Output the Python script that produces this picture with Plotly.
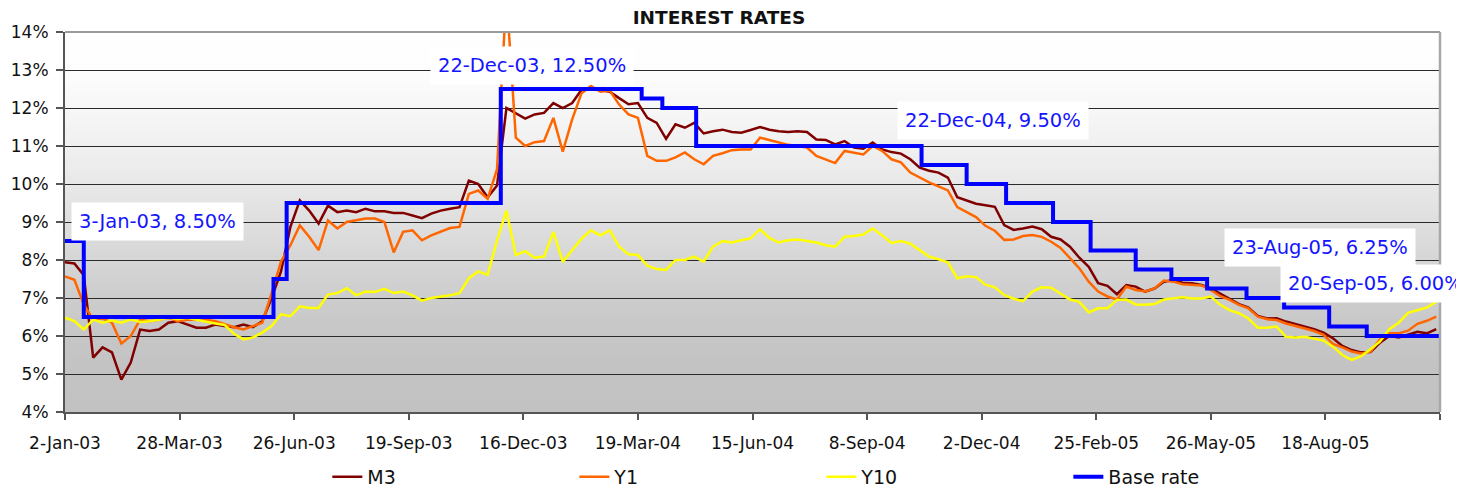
import numpy as np
import pandas as pd
import plotly.graph_objects as go

# ---------------- data ----------------
TITLE = "INTEREST RATES"

# trading calendar (category axis of the original chart)
HOLIDAYS = ["2003-04-21", "2003-05-01", "2003-06-09", "2003-10-23",
            "2003-12-24", "2003-12-25", "2003-12-26", "2003-12-31",
            "2004-01-01", "2004-01-02", "2004-03-15", "2004-04-12",
            "2005-03-15", "2005-03-28", "2005-05-16"]

TICK_LABELS = ["2-Jan-03", "28-Mar-03", "26-Jun-03", "19-Sep-03", "16-Dec-03",
               "19-Mar-04", "15-Jun-04", "8-Sep-04", "2-Dec-04", "25-Feb-05",
               "26-May-05", "18-Aug-05", ""]
TICK_STEP = 61      # trading days between axis ticks
SAMPLE_STEP = 5     # series values are read every 5th trading day

M3 = [7.94, 7.91, 7.60, 5.43, 5.70, 5.57, 4.85, 5.30, 6.17, 6.13,
      6.17, 6.35, 6.39, 6.30, 6.22, 6.22, 6.30, 6.26, 6.23, 6.30,
      6.23, 6.39, 7.00, 7.70, 8.87, 9.57, 9.30, 8.96, 9.43, 9.26,
      9.30, 9.26, 9.35, 9.28, 9.28, 9.24, 9.24, 9.17, 9.10, 9.22,
      9.30, 9.35, 9.39, 10.09, 10.00, 9.65, 9.96, 12.00, 11.87, 11.72,
      11.83, 11.87, 12.13, 12.00, 12.13, 12.48, 12.52, 12.48, 12.43, 12.26,
      12.10, 12.13, 11.74, 11.61, 11.19, 11.57, 11.48, 11.61, 11.33, 11.39,
      11.43, 11.37, 11.35, 11.42, 11.50, 11.43, 11.39, 11.37, 11.39, 11.37,
      11.17, 11.16, 11.04, 11.13, 10.96, 10.93, 11.09, 10.91, 10.84, 10.80,
      10.65, 10.43, 10.35, 10.30, 10.17, 9.65, 9.57, 9.48, 9.44, 9.40,
      8.92, 8.79, 8.83, 8.88, 8.81, 8.61, 8.54, 8.35, 8.06, 7.82,
      7.39, 7.32, 7.10, 7.34, 7.30, 7.17, 7.25, 7.43, 7.47, 7.40,
      7.39, 7.34, 7.25, 7.12, 6.97, 6.84, 6.75, 6.53, 6.46, 6.47,
      6.38, 6.32, 6.25, 6.18, 6.09, 5.94, 5.74, 5.63, 5.57, 5.58,
      5.82, 6.00, 5.96, 6.03, 6.11, 6.07, 6.18]

Y1 = [7.57, 7.48, 6.83, 6.43, 6.46, 6.35, 5.80, 6.00, 6.43, 6.39,
      6.43, 6.48, 6.39, 6.43, 6.43, 6.43, 6.39, 6.30, 6.23, 6.17,
      6.26, 6.35, 7.13, 7.96, 8.39, 8.91, 8.61, 8.26, 9.04, 8.83,
      9.00, 9.04, 9.09, 9.09, 9.00, 8.20, 8.74, 8.78, 8.52, 8.65,
      8.74, 8.84, 8.87, 9.74, 9.83, 9.61, 10.39, 15.00, 11.22, 11.00,
      11.10, 11.13, 11.74, 10.85, 11.70, 12.39, 12.58, 12.43, 12.46, 12.09,
      11.83, 11.74, 10.74, 10.61, 10.61, 10.70, 10.83, 10.65, 10.52, 10.74,
      10.81, 10.89, 10.91, 10.91, 11.22, 11.15, 11.09, 11.03, 11.00, 10.96,
      10.74, 10.65, 10.55, 10.87, 10.83, 10.78, 11.00, 10.87, 10.65, 10.57,
      10.30, 10.17, 10.04, 9.94, 9.83, 9.39, 9.26, 9.13, 8.90, 8.77,
      8.53, 8.54, 8.63, 8.66, 8.61, 8.48, 8.32, 8.04, 7.78, 7.43,
      7.17, 7.04, 6.96, 7.30, 7.21, 7.17, 7.25, 7.46, 7.43, 7.36,
      7.34, 7.33, 7.21, 7.05, 6.95, 6.82, 6.73, 6.51, 6.44, 6.42,
      6.33, 6.27, 6.20, 6.13, 6.03, 5.79, 5.70, 5.59, 5.54, 5.59,
      5.91, 6.07, 6.07, 6.14, 6.32, 6.40, 6.51]

Y10 = [6.48, 6.39, 6.17, 6.43, 6.35, 6.41, 6.35, 6.43, 6.37, 6.39,
       6.43, 6.48, 6.44, 6.48, 6.43, 6.37, 6.33, 6.29, 6.06, 5.91,
       5.96, 6.09, 6.26, 6.57, 6.52, 6.78, 6.74, 6.74, 7.09, 7.13,
       7.26, 7.07, 7.17, 7.16, 7.24, 7.13, 7.17, 7.07, 6.93, 7.00,
       7.04, 7.07, 7.13, 7.52, 7.70, 7.61, 8.52, 9.30, 8.13, 8.23,
       8.06, 8.09, 8.74, 7.95, 8.26, 8.56, 8.78, 8.65, 8.78, 8.35,
       8.15, 8.13, 7.85, 7.76, 7.74, 8.00, 8.00, 8.09, 7.96, 8.35,
       8.50, 8.46, 8.52, 8.57, 8.81, 8.58, 8.46, 8.52, 8.54, 8.50,
       8.46, 8.39, 8.35, 8.61, 8.63, 8.67, 8.83, 8.65, 8.45, 8.50,
       8.43, 8.26, 8.09, 8.02, 7.94, 7.52, 7.57, 7.55, 7.35, 7.28,
       7.08, 6.98, 6.92, 7.17, 7.28, 7.27, 7.12, 6.96, 6.90, 6.62,
       6.73, 6.73, 6.95, 6.96, 6.83, 6.82, 6.84, 6.96, 6.99, 7.02,
       6.99, 6.99, 7.04, 6.82, 6.68, 6.60, 6.46, 6.22, 6.22, 6.25,
       5.98, 5.96, 5.98, 5.92, 5.88, 5.72, 5.50, 5.37, 5.47, 5.65,
       5.85, 6.18, 6.35, 6.61, 6.68, 6.75, 6.90]

BASE_DATES = ["2003-01-02", "2003-01-16", "2003-06-11", "2003-06-20", "2003-11-28",
              "2004-03-23", "2004-04-07", "2004-05-04", "2004-10-19", "2004-11-22",
              "2004-12-21", "2005-01-25", "2005-02-22", "2005-03-30", "2005-04-26",
              "2005-05-24", "2005-06-22", "2005-07-20", "2005-08-23", "2005-09-20"]
BASE_RATES = [8.50, 6.50, 7.50, 9.50, 12.50, 12.25, 12.00, 11.00, 10.50, 10.00,
              9.50, 9.00, 8.25, 7.75, 7.50, 7.25, 7.00, 6.75, 6.25, 6.00]

LABEL_DATES = ["2003-01-03", "2003-12-22", "2004-12-22", "2005-08-23", "2005-09-20"]
LABEL_TEXTS = ["3-Jan-03, 8.50%", "22-Dec-03, 12.50%", "22-Dec-04, 9.50%",
               "23-Aug-05, 6.25%", "20-Sep-05, 6.00%"]
LABEL_RATES = [8.50, 12.50, 9.50, 6.25, 6.00]

# ---------------- build ----------------
cal = pd.bdate_range("2003-01-02", "2005-12-30", freq="C", holidays=HOLIDAYS)


def pos(d):
    return int(cal.get_loc(pd.Timestamp(d)))


n = len(M3)
x_s = np.arange(n) * SAMPLE_STEP
dates_s = [cal[i].strftime("%d-%b-%y") for i in x_s]
x_end = TICK_STEP * (len(TICK_LABELS) - 1)

base_x = [pos(d) for d in BASE_DATES] + [x_end]
base_y = BASE_RATES + [BASE_RATES[-1]]

FONT = "DejaVu Sans"
W, H = 1456, 481   # page has an 8px body margin
fig = go.Figure()

series = [("M3", M3, "#800000", 2.5), ("Y1", Y1, "#FF6600", 2.5), ("Y10", Y10, "#FFFF00", 2.5)]
for name, vals, col, w in series:
    fig.add_trace(go.Scatter(x=x_s, y=vals, name=name, mode="lines",
                             line=dict(color=col, width=w),
                             customdata=dates_s,
                             hovertemplate="%{customdata}: %{y:.2f}%<extra>" + name + "</extra>"))

fig.add_trace(go.Scatter(x=base_x, y=base_y, name="Base rate", mode="lines",
                         line=dict(color="#0000FF", width=4, shape="hv"),
                         hovertemplate="%{y:.2f}%<extra>Base rate</extra>"))

# background gradient (white at top -> grey at bottom)
stops_v = [4, 5, 6, 7, 8, 9, 10, 11, 12, 13, 14]
stops_c = [194, 195, 198, 205, 214, 223, 232, 240, 247, 253, 255]
shapes = []
nb = 100
step = 10 / nb
for i in range(nb):
    y0 = 4 + step * i
    y1 = min(14, y0 + step * 1.6)   # overlap to avoid seams
    c = int(round(np.interp(y0 + step / 2, stops_v, stops_c)))
    shapes.append(dict(type="rect", xref="paper", yref="y", x0=0, x1=1, y0=y0, y1=y1,
                       fillcolor=f"rgb({c},{c},{c})", line=dict(width=0), layer="below"))
# top and right frame
shapes.append(dict(type="line", xref="paper", yref="paper", x0=0, x1=1, y0=1, y1=1,
                   line=dict(color="#9a9a9a", width=2), layer="above"))
shapes.append(dict(type="line", xref="paper", yref="paper", x0=1, x1=1, y0=0, y1=1,
                   line=dict(color="#a8a8a8", width=2.5), layer="above"))

# data labels
shifts = [(91, 19.5), (1, 24), (-15, 83), (-9, 79), (9, 52.5)]
annotations = []
for d, t, r, (dx, dy) in zip(LABEL_DATES, LABEL_TEXTS, LABEL_RATES, shifts):
    annotations.append(dict(x=pos(d), y=r, xref="x", yref="y", text=t, showarrow=False,
                            xshift=dx, yshift=dy, bgcolor="white", borderpad=7,
                            font=dict(family=FONT, size=19.5, color="#1414ff")))

fig.update_layout(
    width=W, height=H,
    margin=dict(l=57, r=24, t=24, b=77, autoexpand=False),
    paper_bgcolor="white", plot_bgcolor="white",
    font=dict(family=FONT, color="#111111"),
    title=dict(text="<b>" + TITLE + "</b>", x=711 / W, xanchor="center",
               y=1 - 10 / H, yanchor="middle",
               font=dict(family=FONT, size=18.5, color="#111111")),
    showlegend=True,
    legend=dict(orientation="h", x=0.1908, xanchor="left", y=-0.171, yanchor="middle",
                entrywidth=202, entrywidthmode="pixels", bgcolor="rgba(0,0,0,0)",
                font=dict(family=FONT, size=19, color="#111111"), traceorder="normal"),
    shapes=shapes,
    annotations=annotations,
    hovermode="x unified",
)

fig.update_xaxes(range=[0, x_end], tickmode="array", automargin=False,
                 tickvals=[i * TICK_STEP for i in range(len(TICK_LABELS))],
                 ticktext=TICK_LABELS, ticks="outside", ticklen=6, tickwidth=1.5,
                 tickcolor="#555555", showgrid=False, zeroline=False,
                 showline=True, linecolor="#555555", linewidth=2,
                 ticklabelstandoff=9,
                 tickfont=dict(family=FONT, size=17, color="#111111"))
fig.update_yaxes(range=[4, 14], dtick=1, ticksuffix="%", ticks="outside", ticklen=7,
                 automargin=False, ticklabelstandoff=4,
                 tickwidth=1.5, tickcolor="#555555", showgrid=True, gridcolor="#2a2a2a",
                 gridwidth=1, zeroline=False, showline=True, linecolor="#555555",
                 linewidth=2, tickfont=dict(family=FONT, size=17, color="#111111"))

fig.write_html("out.html")
